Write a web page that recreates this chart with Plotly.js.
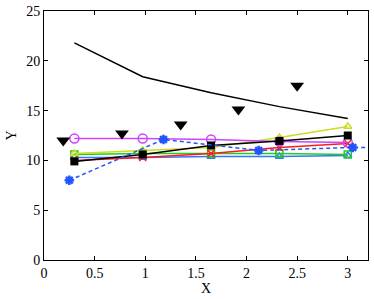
<!DOCTYPE html>
<html><head><meta charset="utf-8">
<script src="https://cdn.plot.ly/plotly-3.0.1.min.js"></script>
<style>body{margin:0;background:#fff}#c{width:374px;height:299px}</style>
</head><body><div id="c"></div>
<script>
const xs = [0.3, 0.975, 1.65, 2.325, 3.0];
const blackLine = [21.8, 18.4, 16.8, 15.4, 14.2];
const triX = [0.19, 0.77, 1.35, 1.92, 2.5];
const triY = [12.0, 12.7, 13.6, 15.1, 17.5];
const magenta = [12.2, 12.2, 12.1, 11.9, 11.8];
const yellow = [10.7, 11.0, 11.3, 12.3, 13.4];
const blackSq = [9.9, 10.6, 11.5, 11.95, 12.5];
const red = [10.0, 10.3, 10.7, 11.3, 11.7];
const green = [10.6, 10.7, 10.7, 10.7, 10.6];
const blue = [10.3, 10.3, 10.4, 10.4, 10.5];
const starX = [0.25, 1.18, 2.12, 3.05, 3.98];
const starY = [8.0, 12.1, 11.0, 11.3, 11.3];

const tr = (x, y, color, sym, dash, extra) => Object.assign({
  x, y, type: 'scatter', mode: 'lines+markers',
  line: {color, width: 1.5, dash: dash || 'solid'},
  marker: {symbol: sym, size: 7, color, line: {color, width: 1.5}},
  showlegend: false, cliponaxis: true
}, extra || {});

const data = [
  tr(xs, blackLine, '#000000', 'circle', 'solid', {mode: 'lines'}),
  tr(xs, blue, '#3377ff', 'triangle-up-open'),
  tr(xs, green, '#22cc22', 'square-open'),
  tr(xs, red, '#ff1a1a', 'x-thin-open'),
  tr(xs, yellow, '#ccdd22', 'triangle-up-open'),
  tr(xs, magenta, '#cc44ff', 'circle-open', 'solid', {marker: {symbol: 'circle-open', size: 9, color: '#cc44ff', line: {color: '#cc44ff', width: 1.5}}}),
  tr(xs, blackSq, '#000000', 'square', 'solid', {marker: {symbol: 'square', size: 8, color: '#000'}}),
  tr(starX, starY, '#2255ff', 'asterisk-open', '4px,3px', {marker: {symbol: 'asterisk-open', size: 8, color: '#2255ff', line: {color: '#2255ff', width: 2.5}}}),
  {x: triX, y: triY, type: 'scatter', mode: 'markers', showlegend: false,
   marker: {symbol: 'triangle-down', size: 12, color: '#000'}}
];

const font = {family: 'Liberation Serif, Times New Roman, serif', size: 14, color: '#000'};
const ax = {
  showgrid: false, zeroline: false, showline: true, mirror: 'ticks',
  linecolor: '#000', linewidth: 1, ticks: 'inside', ticklen: 4, tickcolor: '#000',
  tickfont: font
};
const layout = {
  width: 374, height: 299,
  margin: {l: 44, r: 6, t: 11, b: 39},
  paper_bgcolor: '#fff', plot_bgcolor: '#fff',
  font: font,
  xaxis: Object.assign({}, ax, {range: [0, 3.2], tickvals: [0, 0.5, 1, 1.5, 2, 2.5, 3],
    ticktext: ['0', '0.5', '1', '1.5', '2', '2.5', '3'],
    title: {text: 'X', font: font, standoff: 1}}),
  yaxis: Object.assign({}, ax, {range: [0, 25], tickvals: [0, 5, 10, 15, 20, 25],
    title: {text: 'Y', font: font, standoff: 6}})
};
Plotly.newPlot('c', data, layout, {displayModeBar: false, staticPlot: true});
</script></body></html>
